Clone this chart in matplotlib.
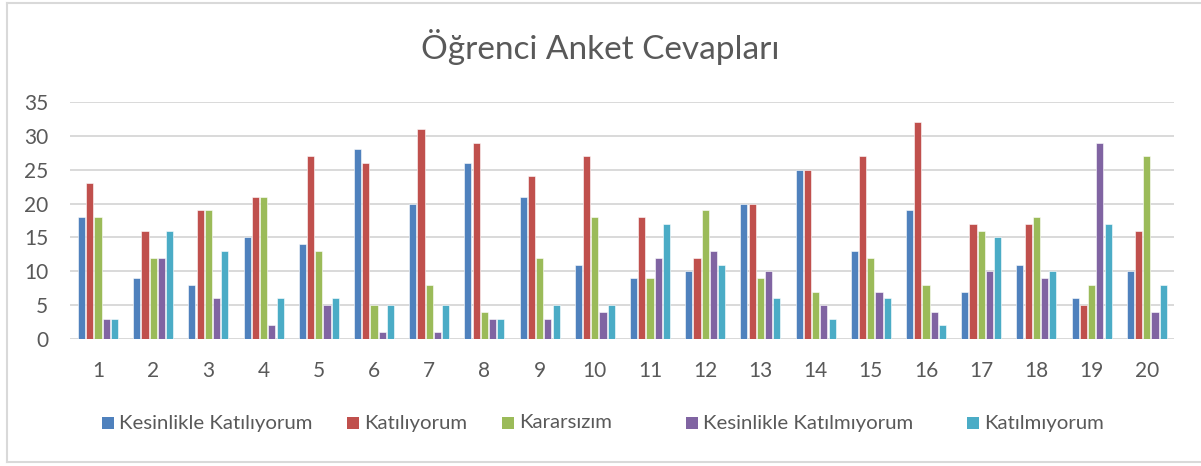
import matplotlib
matplotlib.use("Agg")
import matplotlib.pyplot as plt
import numpy as np
from matplotlib.patches import Rectangle
from matplotlib.lines import Line2D

plt.rcParams['font.family'] = ['Lato', 'DejaVu Sans']

# survey questions 1..20
questions = [str(i) for i in range(1, 21)]

series_names = ["Kesinlikle Katılıyorum", "Katılıyorum", "Kararsızım",
                "Kesinlikle Katılmıyorum", "Katılmıyorum"]

kesinlikle_katiliyorum = [18, 9, 8, 15, 14, 28, 20, 26, 21, 11, 9, 10, 20, 25, 13, 19, 7, 11, 6, 10]
katiliyorum = [23, 16, 19, 21, 27, 26, 31, 29, 24, 27, 18, 12, 20, 25, 27, 32, 17, 17, 5, 16]
kararsizim = [18, 12, 19, 21, 13, 5, 8, 4, 12, 18, 9, 19, 9, 7, 12, 8, 16, 18, 8, 27]
kesinlikle_katilmiyorum = [3, 12, 6, 2, 5, 1, 1, 3, 3, 4, 12, 13, 10, 5, 7, 4, 10, 9, 29, 4]
katilmiyorum = [3, 16, 13, 6, 6, 5, 5, 3, 5, 5, 17, 11, 6, 3, 6, 2, 15, 10, 17, 8]

colors = ["#4F81BD", "#C0504D", "#9BBB59", "#8064A2", "#4BACC6"]
all_series = [kesinlikle_katiliyorum, katiliyorum, kararsizim,
              kesinlikle_katilmiyorum, katilmiyorum]

W, H = 1201, 466
fig = plt.figure(figsize=(W / 100, H / 100), dpi=100)
ax = fig.add_axes([70.4 / W, (H - 339) / H, 1104 / W, 237 / H])

x = np.arange(1, 21)
slot = 0.149
bw = 0.128
for i, (vals, c) in enumerate(zip(all_series, colors)):
    ax.bar(x + (i - 2) * slot, vals, width=bw, color=c,
           edgecolor="white", linewidth=0.4, zorder=3)

ax.set_xlim(0.5, 20.5)
ax.set_ylim(0, 35)
ax.set_yticks(range(0, 36, 5))
ax.set_xticks(x)
ax.set_xticklabels(questions)
ax.grid(axis="y", color="#D9D9D9", linewidth=1.4, zorder=0)
for s in ax.spines.values():
    s.set_visible(False)
ax.axhline(0, color="#D9D9D9", linewidth=1.4, zorder=1)
ax.tick_params(axis="both", length=0, labelsize=15, colors="#595959")
ax.tick_params(axis="y", pad=16)
ax.tick_params(axis="x", pad=16)

fig.text(0.5, (H - 47) / H, "Öğrenci Anket Cevapları", ha="center", va="center",
         fontsize=24, color="#595959")

# legend laid out by hand, like Excel spreads it under the chart
legend_x = [102, 347, 502, 686, 967]
ly = H - 423
for px, name, c in zip(legend_x, series_names, colors):
    fig.add_artist(Rectangle((px / W, (ly - 6) / H), 12 / W, 12 / H,
                             facecolor=c, edgecolor="none", transform=fig.transFigure))
    fig.text((px + 17) / W, ly / H, name, ha="left", va="center",
             fontsize=14.7, color="#595959")

# chart border (left, top, bottom)
border = "#D9D9D9"
fig.add_artist(Line2D([7 / W, 7 / W], [(H - 3) / H, (H - 462) / H], color=border, linewidth=1.5))
fig.add_artist(Line2D([7 / W, 1], [(H - 3) / H, (H - 3) / H], color=border, linewidth=1.5))
fig.add_artist(Line2D([7 / W, 1], [(H - 462) / H, (H - 462) / H], color=border, linewidth=1.5))

fig.savefig("out.png", dpi=100)
